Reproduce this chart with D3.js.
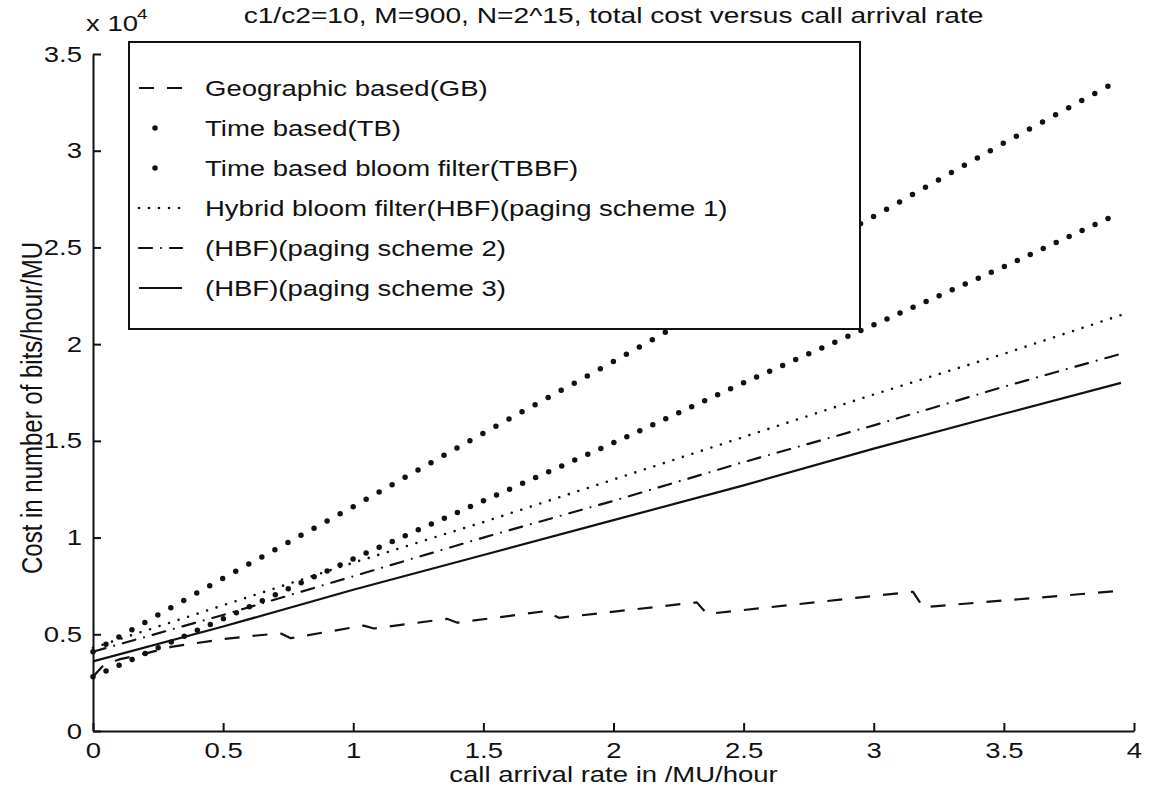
<!DOCTYPE html>
<html>
<head>
<meta charset="utf-8">
<script src="https://cdn.jsdelivr.net/npm/d3@7"></script>
<style>
  body { margin: 0; background: #fff; }
  svg { display: block; }
  text { font-family: "Liberation Sans", Arial, sans-serif; fill: #111; }
</style>
</head>
<body>
<svg id="chart"></svg>
<script>
// values in units of 10^4 bits/hour/MU
const rate = [0, 0.5, 1, 1.5, 2, 2.5, 3, 3.5, 3.95];
const tbCost   = [0.41, 0.79, 1.16, 1.54, 1.91, 2.29, 2.66, 3.04, 3.37];
const tbbfCost = [0.28, 0.58, 0.89, 1.19, 1.49, 1.80, 2.10, 2.40, 2.68];
const hbf1Cost = [0.43, 0.65, 0.87, 1.08, 1.30, 1.52, 1.74, 1.95, 2.15];
const hbf2Cost = [0.41, 0.60, 0.80, 1.00, 1.19, 1.39, 1.58, 1.78, 1.95];
const hbf3Cost = [0.36, 0.54, 0.73, 0.91, 1.09, 1.27, 1.46, 1.64, 1.80];

// geographic based has small drops, so it gets its own breakpoints
const gbRate = [0, 0.04, 0.1, 0.2, 0.3, 0.4, 0.5, 0.6, 0.72, 0.76, 1.04, 1.08, 1.36, 1.40, 1.74, 1.79, 2.32, 2.36, 3.15, 3.19, 3.95];
const gbCost = [0.28, 0.34, 0.37, 0.40, 0.435, 0.455, 0.475, 0.49, 0.505, 0.48, 0.545, 0.53, 0.58, 0.56, 0.62, 0.585, 0.665, 0.605, 0.72, 0.64, 0.725];

const sampleStep = 0.05;   // spacing of the point markers along x

const xTicks = [0, 0.5, 1, 1.5, 2, 2.5, 3, 3.5, 4];
const yTicks = [0, 0.5, 1, 1.5, 2, 2.5, 3, 3.5];

const legendNames = [
  "Geographic based(GB)",
  "Time based(TB)",
  "Time based bloom filter(TBBF)",
  "Hybrid bloom filter(HBF)(paging scheme 1)",
  "(HBF)(paging scheme 2)",
  "(HBF)(paging scheme 3)"
];

const titleText = "c1/c2=10, M=900, N=2^15, total cost versus call arrival rate";
const xLabel = "call arrival rate in /MU/hour";
const yLabel = "Cost in number of bits/hour/MU";

const W = 1153, H = 788;
const stretch = 1.25; // the scanned figure is wider than it is tall
const fs = 22;

const svg = d3.select("#chart").attr("width", W).attr("height", H);
svg.append("rect").attr("width", W).attr("height", H).attr("fill", "#fff");

const x = d3.scaleLinear().domain([0, 4]).range([93, 1134]);
const y = d3.scaleLinear().domain([0, 3.5]).range([731, 54]);

const line = d3.line().x(d => x(d[0])).y(d => y(d[1]));

const styles = {
  gb:   { width: 2.2, dash: "15 13", cap: "butt" },
  tb:   { width: 5.5, dots: true },
  tbbf: { width: 5.5, dots: true },
  hbf1: { width: 2.6, dash: "0 10", cap: "round" },
  hbf2: { width: 2.2, dash: "13 9 0 9", cap: "round" },
  hbf3: { width: 2.2, dash: null, cap: "butt" }
};

const series = [
  { key: "gb",   pts: d3.zip(gbRate, gbCost) },
  { key: "tb",   pts: d3.zip(rate, tbCost) },
  { key: "tbbf", pts: d3.zip(rate, tbbfCost) },
  { key: "hbf1", pts: d3.zip(rate, hbf1Cost) },
  { key: "hbf2", pts: d3.zip(rate, hbf2Cost) },
  { key: "hbf3", pts: d3.zip(rate, hbf3Cost) }
];

const plot = svg.append("g");
for (const s of series) {
  const st = styles[s.key];
  const p = plot.append("path")
    .datum(s.pts)
    .attr("fill", "none")
    .attr("stroke", "#111")
    .attr("stroke-width", st.width)
    .attr("stroke-linejoin", "round")
    .attr("d", line);
  if (st.dots) {
    const steps = Math.round((s.pts[s.pts.length - 1][0] - s.pts[0][0]) / sampleStep);
    const gap = p.node().getTotalLength() / steps;
    p.attr("stroke-linecap", "round").attr("stroke-dasharray", `0 ${gap}`);
  } else {
    p.attr("stroke-linecap", st.cap);
    if (st.dash) p.attr("stroke-dasharray", st.dash);
  }
}

// horizontal text helper (text is stretched sideways like the scan)
function label(g, tx, ty, str, anchor, size, k) {
  return g.append("text")
    .attr("transform", `translate(${tx},${ty}) scale(${k || stretch},1)`)
    .attr("text-anchor", anchor || "start")
    .style("font-size", (size || fs) + "px")
    .text(str);
}

// legend
const lg = svg.append("g");
lg.append("rect")
  .attr("x", 129).attr("y", 42)
  .attr("width", 731).attr("height", 287)
  .attr("fill", "#fff").attr("stroke", "#111").attr("stroke-width", 2);

const rowY = d3.scalePoint().domain(legendNames).range([88, 288]);
series.forEach((s, i) => {
  const name = legendNames[i];
  const cy = rowY(name);
  const st = styles[s.key];
  if (st.dots) {
    lg.append("circle").attr("cx", 155).attr("cy", cy).attr("r", st.width / 2).attr("fill", "#111");
  } else {
    lg.append("line")
      .attr("x1", 139).attr("x2", 182).attr("y1", cy).attr("y2", cy)
      .attr("stroke", "#111").attr("stroke-width", st.width)
      .attr("stroke-linecap", st.cap)
      .attr("stroke-dasharray", st.dash);
  }
  label(lg, 205, cy + 8, name);
});

// axes
const xAxis = svg.append("g")
  .attr("transform", `translate(0,${y(0)})`)
  .call(d3.axisBottom(x).tickValues(xTicks).tickFormat(d3.format("~g"))
    .tickSizeInner(-8).tickSizeOuter(0).tickPadding(11));
const yAxis = svg.append("g")
  .attr("transform", `translate(${x(0)},0)`)
  .call(d3.axisLeft(y).tickValues(yTicks).tickFormat(d3.format("~g"))
    .tickSizeInner(-8).tickSizeOuter(0).tickPadding(11));

for (const a of [xAxis, yAxis]) {
  a.select(".domain").attr("stroke", "#111").attr("stroke-width", 2);
  a.selectAll(".tick line").attr("stroke", "#111").attr("stroke-width", 2);
  a.selectAll(".tick text")
    .attr("fill", "#111")
    .style("font-size", fs + "px")
    .style("font-family", '"Liberation Sans", Arial, sans-serif');
}
xAxis.selectAll(".tick text").attr("transform", `scale(${stretch},1)`);
yAxis.selectAll(".tick text")
  .attr("x", 0)
  .attr("transform", `translate(-11,0) scale(${stretch},1)`);

// titles
label(svg, (x(0) + x(4)) / 2, 23, titleText, "middle", fs, 1.28);
label(svg, (x(0) + x(4)) / 2, 782, xLabel, "middle");

label(svg, 86, 31, "x 10", "start");
label(svg, 137, 19, "4", "start", 15);

svg.append("text")
  .attr("transform", `translate(42,408) rotate(-90) scale(1,${stretch})`)
  .attr("text-anchor", "middle")
  .style("font-size", "24px")
  .text(yLabel);
</script>
</body>
</html>
